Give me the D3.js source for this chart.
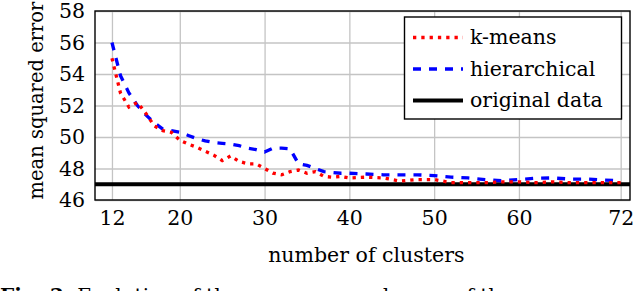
<!DOCTYPE html>
<html lang="en">

<head>
    <meta charset="UTF-8" />
    <title>Mean squared error vs number of clusters</title>

    <script src="https://d3js.org/d3.v7.min.js"></script>

    <style>
        body {
            margin: 0;
            background: #fff;
        }
    </style>

</head>

<body>

    <script>

        // data
        var clusters = [12, 13, 14, 15, 16, 17, 18, 19, 20, 21, 22, 23, 24, 25, 26, 27, 28, 29, 30,
            31, 32, 33, 34, 35, 36, 37, 38, 39, 40, 42, 44, 46, 48, 50, 52, 54, 56, 58, 60,
            62, 64, 66, 68, 70, 72];
        var kmeans = [55.0, 52.8, 51.9, 52.2, 51.5, 50.7, 50.4, 50.3, 49.8, 49.55, 49.35, 49.1, 48.85, 48.5, 48.8,
            48.45, 48.3, 48.3, 48.0, 47.7, 47.6, 47.8, 47.9, 47.7, 47.8, 47.5, 47.45, 47.5, 47.4, 47.45,
            47.4, 47.2, 47.3, 47.3, 47.1, 47.1, 47.1, 47.15, 47.15, 47.1, 47.15, 47.1, 47.1, 47.1, 47.1];
        var hierarchical = [56.0, 53.9, 52.8, 52.0, 51.4, 50.9, 50.5, 50.4, 50.3, 50.1, 49.9, 49.75, 49.65, 49.6, 49.55,
            49.45, 49.3, 49.2, 49.05, 49.3, 49.3, 49.25, 48.3, 48.2, 48.0, 47.8, 47.75, 47.7, 47.7, 47.65,
            47.6, 47.6, 47.6, 47.55, 47.45, 47.4, 47.3, 47.22, 47.3, 47.38, 47.4, 47.33, 47.33, 47.27, 47.22];
        var originalData = 47;

        var xTicks = [12, 20, 30, 40, 50, 60, 72];
        var yTicks = [46, 48, 50, 52, 54, 56, 58];

        var legendItems = [
            { name: "k-means", color: "#ff0000", dash: "3.3,5", width: 3.3 },
            { name: "hierarchical", color: "#0000ff", dash: "8,8", width: 3.3 },
            { name: "original data", color: "#000000", dash: null, width: 4 }
        ];

        var w = 640;
        var h = 291;
        var plotLeft = 95, plotRight = 630, plotTop = 11, plotBottom = 200;
        var serif = '"DejaVu Serif", serif';
        var fontSize = "20.5px";

        var svg = d3.select("body")
            .append("svg")
            .attr("width", w)
            .attr("height", h);

        var xScale = d3.scaleLinear()
            .domain([10, 73.1])
            .range([plotLeft, plotRight]);

        var yScale = d3.scaleLinear()
            .domain([46, 58])
            .range([plotBottom, plotTop]);

        // grid + x tick labels
        var xAxis = svg.append("g")
            .attr("transform", `translate(0, ${plotBottom})`)
            .call(d3.axisBottom(xScale)
                .tickValues(xTicks)
                .tickSizeInner(-(plotBottom - plotTop))
                .tickSizeOuter(0)
                .tickPadding(10));
        xAxis.select(".domain").remove();
        xAxis.selectAll("line").attr("stroke", "#c4c4c4").attr("stroke-width", 1.3);
        xAxis.selectAll("text")
            .style("font-family", serif)
            .style("font-size", fontSize)
            .attr("fill", "#000");

        var yAxis = svg.append("g")
            .attr("transform", `translate(${plotLeft}, 0)`)
            .call(d3.axisLeft(yScale)
                .tickValues(yTicks)
                .tickSizeInner(-(plotRight - plotLeft))
                .tickSizeOuter(0)
                .tickPadding(10));
        yAxis.select(".domain").remove();
        yAxis.selectAll("line").attr("stroke", "#c4c4c4").attr("stroke-width", 1.3);
        yAxis.selectAll("text")
            .style("font-family", serif)
            .style("font-size", fontSize)
            .attr("fill", "#000");

        svg.append("clipPath")
            .attr("id", "plot-clip")
            .append("rect")
            .attr("x", plotLeft)
            .attr("y", plotTop)
            .attr("width", plotRight - plotLeft)
            .attr("height", plotBottom - plotTop);

        var plot = svg.append("g").attr("clip-path", "url(#plot-clip)");

        var line = d3.line()
            .x(function (d) { return xScale(d[0]); })
            .y(function (d) { return yScale(d[1]); });

        // original data level
        plot.append("path")
            .datum(xScale.domain().map(function (c) { return [c, originalData]; }))
            .attr("fill", "none")
            .attr("stroke", legendItems[2].color)
            .attr("stroke-width", legendItems[2].width)
            .attr("d", line);

        // hierarchical
        plot.append("path")
            .datum(d3.zip(clusters, hierarchical))
            .attr("fill", "none")
            .attr("stroke", legendItems[1].color)
            .attr("stroke-width", legendItems[1].width)
            .attr("stroke-dasharray", legendItems[1].dash)
            .attr("d", line);

        // k-means
        plot.append("path")
            .datum(d3.zip(clusters, kmeans))
            .attr("fill", "none")
            .attr("stroke", legendItems[0].color)
            .attr("stroke-width", legendItems[0].width)
            .attr("stroke-dasharray", legendItems[0].dash)
            .attr("d", line);

        // plot border
        svg.append("rect")
            .attr("x", plotLeft)
            .attr("y", plotTop)
            .attr("width", plotRight - plotLeft)
            .attr("height", plotBottom - plotTop)
            .attr("fill", "none")
            .attr("stroke", "#000")
            .attr("stroke-width", 1.4);

        // legend
        var legend = svg.append("g");
        legend.append("rect")
            .attr("x", 404.5)
            .attr("y", 17)
            .attr("width", 217)
            .attr("height", 102)
            .attr("fill", "#fff")
            .attr("stroke", "#000")
            .attr("stroke-width", 1.4);

        var rows = legend.selectAll(".row")
            .data(legendItems)
            .enter()
            .append("g")
            .attr("class", "row")
            .attr("transform", function (d, i) { return `translate(0, ${37.5 + i * 31.5})`; });

        rows.append("line")
            .attr("x1", 413)
            .attr("x2", 463)
            .attr("stroke", function (d) { return d.color; })
            .attr("stroke-width", function (d) { return d.width; })
            .attr("stroke-dasharray", function (d) { return d.dash; });

        rows.append("text")
            .attr("x", 470)
            .attr("y", 6.8)
            .style("font-family", serif)
            .style("font-size", fontSize)
            .text(function (d) { return d.name; });

        // axis titles
        svg.append("text")
            .attr("text-anchor", "middle")
            .attr("x", (xScale(12) + xScale(72)) / 2)
            .attr("y", 262)
            .style("font-family", serif)
            .style("font-size", fontSize)
            .text("number of clusters");

        svg.append("text")
            .attr("text-anchor", "start")
            .attr("transform", "rotate(-90)")
            .attr("x", -199.5)
            .attr("y", 43)
            .style("font-family", serif)
            .style("font-size", "19.5px")
            .text("mean squared error");

        // caption, cut off by the bottom edge
        var caption = svg.append("text")
            .attr("x", 0)
            .attr("y", 303)
            .style("font-family", serif)
            .style("font-size", "20px");
        caption.append("tspan").attr("font-weight", "bold").text("Fig. 3:");
        caption.append("tspan").text(" Evolution of the mean squared error of the");

    </script>

</body>

</html>
